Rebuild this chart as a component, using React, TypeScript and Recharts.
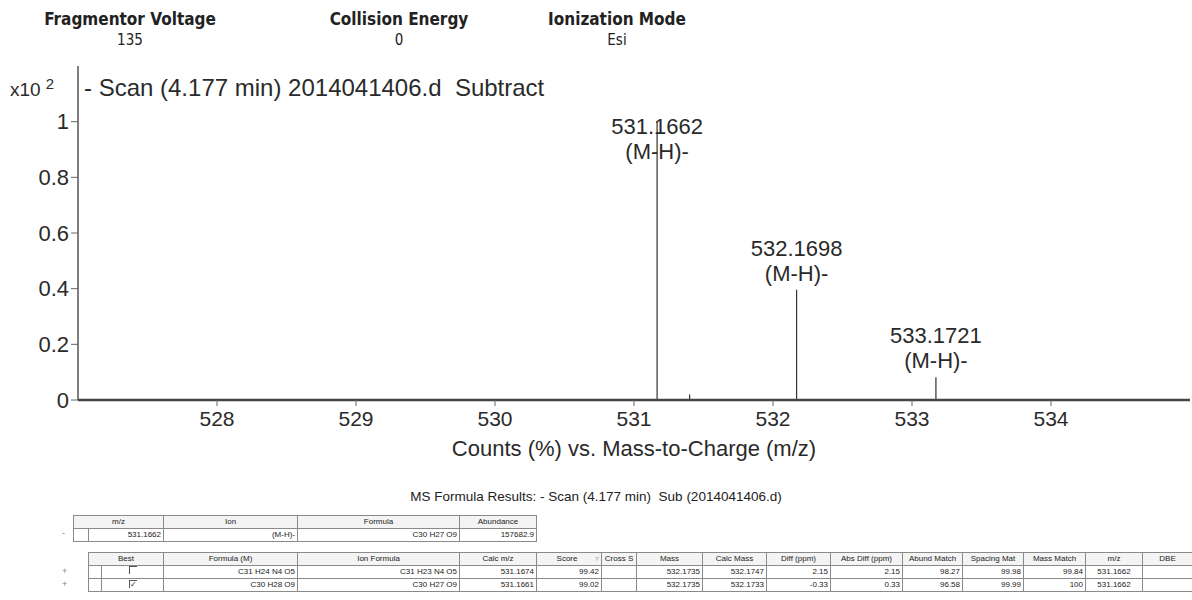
import React from 'react';
import { LineChart, Line, XAxis, YAxis, LabelList } from 'recharts';

// spectrum peaks (counts in units of 10^2 %)
const peakMz = [531.1662, 531.4, 532.1698, 533.1721];
const peakCounts = [1.0, 0.02, 0.396, 0.082];
const peakMass = ['531.1662', '', '532.1698', '533.1721'];
const peakIon = ['(M-H)-', '', '(M-H)-', '(M-H)-'];

const mzTicks = [528, 529, 530, 531, 532, 533, 534];
const countTicks = [0, 0.2, 0.4, 0.6, 0.8, 1];

const paramNames = ['Fragmentor Voltage', 'Collision Energy', 'Ionization Mode'];
const paramValues = ['135', '0', 'Esi'];

const hitHeaders = ['m/z', 'Ion', 'Formula', 'Abundance'];
const hitRow = ['531.1662', '(M-H)-', 'C30 H27 O9', '157682.9'];

const candHeaders = ['Best', 'Formula (M)', 'Ion Formula', 'Calc m/z', 'Score', 'Cross S', 'Mass', 'Calc Mass',
  'Diff (ppm)', 'Abs Diff (ppm)', 'Abund Match', 'Spacing Mat', 'Mass Match', 'm/z', 'DBE'];
const candBest = [false, true];
const candRows = [
  ['C31 H24 N4 O5', 'C31 H23 N4 O5', '531.1674', '99.42', '', '532.1735', '532.1747', '2.15', '2.15', '98.27', '99.98', '99.84', '531.1662', ''],
  ['C30 H28 O9', 'C30 H27 O9', '531.1661', '99.02', '', '532.1735', '532.1733', '-0.33', '0.33', '96.58', '99.99', '100', '531.1662', ''],
];

// stick spectrum: baseline -> apex -> baseline for each peak
const spectrum = peakMz.flatMap((mz, i) => [
  { mz, counts: 0 },
  { mz, counts: peakCounts[i], mass: peakMass[i], ion: peakIon[i] },
  { mz, counts: 0 },
]);

const sans = '"Liberation Sans", Arial, sans-serif';
const ink = '#2a2a2a';

const PeakLabel = (props: any) => {
  const { x, y, index } = props;
  const p: any = spectrum[index];
  if (!p || !p.mass) return null;
  // the tallest peak has no room above it, so its label sits on the stick
  const y1 = p.counts > 0.9 ? y + 12 : y - 34;
  return (
    <g fill={ink} fontSize={22} fontFamily={sans}>
      <text x={x} y={y1} textAnchor="middle">{p.mass}</text>
      <text x={x} y={y1 + 25} textAnchor="middle">{p.ion}</text>
    </g>
  );
};

const cell: React.CSSProperties = {
  border: '1px solid #8a8a8a',
  padding: '0 2px',
  height: 12,
  fontSize: 8,
  lineHeight: '12px',
  whiteSpace: 'nowrap',
  overflow: 'hidden',
  color: '#222',
};
const head: React.CSSProperties = { ...cell, textAlign: 'center', background: '#f4f4f4' };
const num: React.CSSProperties = { ...cell, textAlign: 'right' };

const hitWidths = [15, 75, 134, 162, 77];
const candWidths = [13, 62, 134, 162, 77, 65, 35, 66, 64, 64, 72, 60, 61, 62, 57, 50];

const Check = ({ on }: { on: boolean }) => (
  <span style={{
    display: 'inline-block', width: 7, height: 7, borderTop: '1px solid #555', borderLeft: '1px solid #555',
    fontSize: 8, lineHeight: '7px', textAlign: 'center', color: '#333',
  }}>{on ? '✓' : ''}</span>
);

const App = () => {
  return (
    <div style={{ position: 'absolute', left: 0, top: 0, width: 1192, height: 600, background: '#fff', overflow: 'hidden', fontFamily: sans, color: ink }}>
      {paramNames.map((name, i) => (
        <div key={name} style={{ position: 'absolute', top: 8, left: [130, 399, 617][i] - 100, width: 200, textAlign: 'center' }}>
          <div style={{ fontFamily: '"DejaVu Sans Condensed", "DejaVu Sans", sans-serif', fontWeight: 'bold', fontSize: 17, lineHeight: '22px', color: '#222' }}>{name}</div>
          <div style={{ fontFamily: '"DejaVu Sans Condensed", "DejaVu Sans", sans-serif', fontSize: 15, lineHeight: '20px', color: '#222' }}>{paramValues[i]}</div>
        </div>
      ))}

      <div style={{ position: 'absolute', left: 0, top: 0 }}>
        <LineChart width={1192} height={462} data={spectrum} margin={{ top: 66, right: 2, bottom: 0, left: 0 }}>
          <XAxis
            dataKey="mz"
            type="number"
            domain={[527, 535]}
            ticks={mzTicks}
            allowDataOverflow
            height={62}
            tickSize={6}
            tickMargin={5}
            axisLine={{ stroke: '#444', strokeWidth: 2.5 }}
            tickLine={{ stroke: '#666' }}
            tick={{ fill: ink, fontSize: 21, fontFamily: sans }}
            label={{ value: 'Counts (%) vs. Mass-to-Charge (m/z)', position: 'insideBottom', offset: 6, fill: ink, fontSize: 22, fontFamily: sans }}
          />
          <XAxis xAxisId="top" orientation="top" dataKey="mz" type="number" domain={[527, 535]} height={0} tick={false} tickLine={false} axisLine={{ stroke: '#666', strokeWidth: 1.5 }} />
          <YAxis
            type="number"
            domain={[0, 1.2]}
            ticks={countTicks}
            width={78}
            tickSize={7}
            tickMargin={2}
            axisLine={{ stroke: '#555', strokeWidth: 1.5 }}
            tickLine={{ stroke: '#666' }}
            tick={{ fill: ink, fontSize: 22, fontFamily: sans }}
          />
          <YAxis yAxisId="right" orientation="right" domain={[0, 1.2]} width={0} tick={false} tickLine={false} axisLine={{ stroke: '#666', strokeWidth: 1.5 }} />
          <Line type="linear" dataKey="counts" stroke="#333" strokeWidth={1.2} dot={false} isAnimationActive={false}>
            <LabelList dataKey="counts" content={PeakLabel} />
          </Line>
        </LineChart>
      </div>

      <div style={{ position: 'absolute', left: 10, top: 79, fontSize: 19, color: ink }}>
        x10<span style={{ position: 'relative', top: -7, left: 5, fontSize: 15 }}>2</span>
      </div>
      <div style={{ position: 'absolute', left: 84, top: 74, fontSize: 24, color: ink, whiteSpace: 'pre' }}>
        - Scan (4.177 min) 2014041406.d  Subtract
      </div>

      <div style={{ position: 'absolute', left: 0, width: 1192, top: 489, textAlign: 'center', fontSize: 13.5, whiteSpace: 'pre', color: '#222' }}>
        MS Formula Results: - Scan (4.177 min)  Sub (2014041406.d)
      </div>

      <div style={{ position: 'absolute', left: 62, top: 528, fontSize: 9, color: '#888' }}>-</div>
      <table style={{ position: 'absolute', left: 73, top: 515, borderCollapse: 'collapse', tableLayout: 'fixed', width: 463 }}>
        <colgroup>{hitWidths.map((w, i) => <col key={i} style={{ width: w }} />)}</colgroup>
        <tbody>
          <tr>
            <td colSpan={2} style={head}>{hitHeaders[0]}</td>
            {hitHeaders.slice(1).map(h => <td key={h} style={head}>{h}</td>)}
          </tr>
          <tr>
            <td style={cell}></td>
            {hitRow.map((v, i) => <td key={i} style={num}>{v}</td>)}
          </tr>
        </tbody>
      </table>

      {candRows.map((_, r) => (
        <div key={r} style={{ position: 'absolute', left: 62, top: 566 + r * 13, fontSize: 9, color: '#888' }}>+</div>
      ))}
      <table style={{ position: 'absolute', left: 88, top: 552, borderCollapse: 'collapse', tableLayout: 'fixed', width: 1104 }}>
        <colgroup>{candWidths.map((w, i) => <col key={i} style={{ width: w }} />)}</colgroup>
        <tbody>
          <tr>
            <td colSpan={2} style={head}>{candHeaders[0]}</td>
            {candHeaders.slice(1).map(h => (
              <td key={h} style={head}>{h}{h === 'Score' ? <span style={{ float: 'right', color: '#aaa' }}>▿</span> : null}</td>
            ))}
          </tr>
          {candRows.map((row, r) => (
            <tr key={r}>
              <td style={cell}></td>
              <td style={{ ...cell, textAlign: 'center' }}><Check on={candBest[r]} /></td>
              {row.map((v, i) => <td key={i} style={i === 12 ? { ...cell, textAlign: 'center' } : num}>{v}</td>)}
            </tr>
          ))}
        </tbody>
      </table>
    </div>
  );
};

export default App;
